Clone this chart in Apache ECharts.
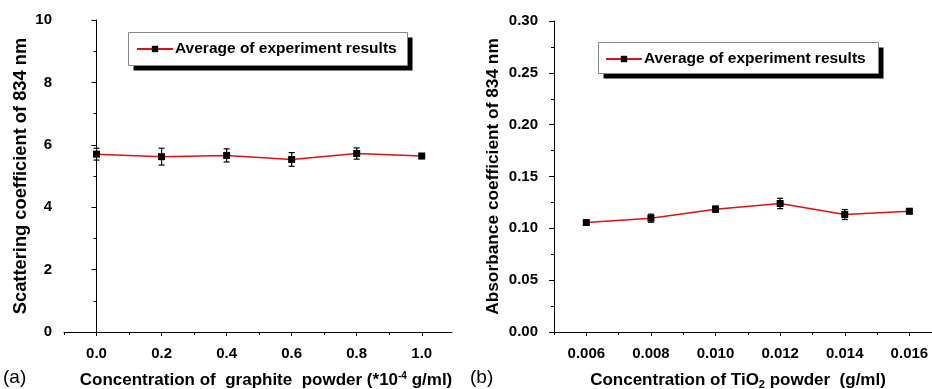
<!DOCTYPE html>
<html>
<head>
<meta charset="utf-8">
<script src="https://cdn.jsdelivr.net/npm/echarts@6/dist/echarts.min.js"></script>
<style>
  html, body { margin: 0; padding: 0; background: #fff; }
  #chart { width: 932px; height: 389px; }
</style>
</head>
<body>
<div id="chart"></div>
<script>
// (a) graphite powder, scattering coefficient
const graphiteConc = [0.0, 0.2, 0.4, 0.6, 0.8, 1.0]
const scatterMean = [5.70, 5.62, 5.66, 5.53, 5.72, 5.64]
const scatterErr = [0.19, 0.27, 0.21, 0.22, 0.18, 0.08]
const graphiteMajor = [0.0, 0.2, 0.4, 0.6, 0.8, 1.0]
const graphiteMinor = [-0.1, 0.1, 0.3, 0.5, 0.7, 0.9]

// (b) TiO2 powder, absorbance coefficient
const tioConc = [0.006, 0.008, 0.010, 0.012, 0.014, 0.016]
const absorbMean = [0.1056, 0.1098, 0.1185, 0.1240, 0.1133, 0.1165]
const absorbErr = [0.0020, 0.0039, 0.0030, 0.0050, 0.0048, 0.0024]
const tioMajor = [0.006, 0.008, 0.010, 0.012, 0.014, 0.016]
const tioMinor = [0.005, 0.007, 0.009, 0.011, 0.013, 0.015]

const seriesName = 'Average of experiment results'
const FONT = 'Liberation Sans'

const chart = echarts.init(document.getElementById('chart'))

// 误差棒
function errorBar(params, api) {
  const x = api.value(0)
  const lo = api.coord([x, api.value(1)])
  const hi = api.coord([x, api.value(2)])
  const w = 3
  const style = { stroke: '#000', lineWidth: 1.2 }
  return {
    type: 'group',
    children: [
      { type: 'line', shape: { x1: lo[0], y1: lo[1], x2: hi[0], y2: hi[1] }, style },
      { type: 'line', shape: { x1: lo[0] - w, y1: lo[1], x2: lo[0] + w, y2: lo[1] }, style },
      { type: 'line', shape: { x1: hi[0] - w, y1: hi[1], x2: hi[0] + w, y2: hi[1] }, style }
    ]
  }
}

const axisLine = { lineStyle: { color: '#000', width: 1 } }
const tickLabel = { color: '#000', fontFamily: FONT, fontWeight: 'bold', fontSize: 15 }
const nameStyle = { color: '#000', fontFamily: FONT, fontWeight: 'bold', fontSize: 17 }

function legendBox(left, top) {
  return {
    data: [seriesName],
    left, top,
    orient: 'horizontal',
    padding: 0,
    itemWidth: 36,
    itemHeight: 8,
    itemGap: 0,
    z: 6,
    textStyle: { color: '#000', fontFamily: FONT, fontWeight: 'bold', fontSize: 15.5, padding: [0, 0, 0, -3] }
  }
}

// 图例的边框和阴影
function legendFrame(x, y, w, h) {
  return [
    { type: 'rect', z: 1, shape: { x: x + 5, y: y + 5, width: w, height: h }, style: { fill: '#000' } },
    { type: 'rect', z: 2, shape: { x, y, width: w, height: h }, style: { fill: '#fff', stroke: '#888', lineWidth: 1 } }
  ]
}

const option = {
  animation: false,
  backgroundColor: '#fff',
  grid: [
    { left: 64, top: 20, width: 388, height: 312, outerBoundsMode: 'none' },
    { left: 554, top: 21, width: 378, height: 311, outerBoundsMode: 'none' }
  ],
  legend: [legendBox(136, 41), legendBox(605, 51)],
  xAxis: [
    {
      gridIndex: 0, type: 'value', min: -0.1, max: 1.093, position: 'bottom',
      name: 'Concentration of  graphite  powder (*10{sup|-4} g/ml)',
      nameLocation: 'middle', nameGap: 39,
      nameTextStyle: Object.assign({}, nameStyle, {
        padding: [0, 0, 0, 16],
        rich: { sup: { fontFamily: FONT, fontWeight: 'bold', fontSize: 10, verticalAlign: 'top', padding: [0, 0, 8, 0] } }
      }),
      axisLine,
      axisTick: { length: 4, lineStyle: { color: '#000' }, customValues: graphiteMajor },
      axisLabel: Object.assign({}, tickLabel, { margin: 14, customValues: graphiteMajor, formatter: v => v.toFixed(1) }),
      splitLine: { show: false }
    },
    {
      gridIndex: 0, type: 'value', min: -0.1, max: 1.093, position: 'bottom',
      axisLine: { show: false },
      axisTick: { length: 3, lineStyle: { color: '#000' }, customValues: graphiteMinor },
      axisLabel: { show: false },
      splitLine: { show: false }
    },
    {
      gridIndex: 1, type: 'value', min: 0.005, max: 0.0167, position: 'bottom',
      name: 'Concentration of TiO{sub|2} powder  (g/ml)',
      nameLocation: 'middle', nameGap: 39,
      nameTextStyle: Object.assign({}, nameStyle, {
        padding: [0, 10, 0, 0],
        rich: { sub: { fontFamily: FONT, fontWeight: 'bold', fontSize: 11, verticalAlign: 'bottom', padding: [8, 0, 0, 0] } }
      }),
      axisLine,
      axisTick: { length: 4, lineStyle: { color: '#000' }, customValues: tioMajor },
      axisLabel: Object.assign({}, tickLabel, { margin: 14, customValues: tioMajor, formatter: v => v.toFixed(3) }),
      splitLine: { show: false }
    },
    {
      gridIndex: 1, type: 'value', min: 0.005, max: 0.0167, position: 'bottom',
      axisLine: { show: false },
      axisTick: { length: 3, lineStyle: { color: '#000' }, customValues: tioMinor },
      axisLabel: { show: false },
      splitLine: { show: false }
    }
  ],
  yAxis: [
    {
      gridIndex: 0, type: 'value', min: 0, max: 10, interval: 2,
      name: 'Scattering coefficient of 834 nm',
      nameLocation: 'middle', nameGap: 34,
      nameTextStyle: Object.assign({}, nameStyle, { fontSize: 18.3 }),
      axisLine: { show: true, lineStyle: { color: '#000' } },
      axisTick: { show: true, length: 5, lineStyle: { color: '#000' } },
      minorTick: { show: true, splitNumber: 2, length: 3, lineStyle: { color: '#000' } },
      axisLabel: Object.assign({}, tickLabel, { margin: 12 }),
      splitLine: { show: false }
    },
    {
      gridIndex: 1, type: 'value', min: 0, max: 0.30, interval: 0.05,
      name: 'Absorbance coefficient of 834 nm',
      nameLocation: 'middle', nameGap: 52,
      nameTextStyle: Object.assign({}, nameStyle, { fontSize: 17.3 }),
      axisLine: { show: true, lineStyle: { color: '#000' } },
      axisTick: { show: true, length: 5, lineStyle: { color: '#000' } },
      minorTick: { show: true, splitNumber: 2, length: 3, lineStyle: { color: '#000' } },
      axisLabel: Object.assign({}, tickLabel, { margin: 16, formatter: v => v.toFixed(2) }),
      splitLine: { show: false }
    }
  ],
  series: [
    {
      name: seriesName, type: 'line', xAxisIndex: 0, yAxisIndex: 0,
      data: graphiteConc.map((x, i) => [x, scatterMean[i]]),
      symbol: 'rect', symbolSize: 7,
      itemStyle: { color: '#000' },
      lineStyle: { color: '#e01010', width: 1.5 },
      z: 3
    },
    {
      type: 'custom', xAxisIndex: 0, yAxisIndex: 0,
      renderItem: errorBar,
      data: graphiteConc.map((x, i) => [x, scatterMean[i] - scatterErr[i], scatterMean[i] + scatterErr[i]]),
      z: 4
    },
    {
      name: seriesName, type: 'line', xAxisIndex: 2, yAxisIndex: 1,
      data: tioConc.map((x, i) => [x, absorbMean[i]]),
      symbol: 'rect', symbolSize: 7,
      itemStyle: { color: '#000' },
      lineStyle: { color: '#e01010', width: 1.5 },
      z: 3
    },
    {
      type: 'custom', xAxisIndex: 2, yAxisIndex: 1,
      renderItem: errorBar,
      data: tioConc.map((x, i) => [x, absorbMean[i] - absorbErr[i], absorbMean[i] + absorbErr[i]]),
      z: 4
    }
  ],
  graphic: [
    ...legendFrame(128.5, 32.5, 279, 33),
    ...legendFrame(598.5, 42.5, 280, 31),
    { type: 'text', left: 3, top: 368, style: { text: '(a)', font: '19px "Liberation Sans"', fill: '#000' } },
    { type: 'text', left: 470, top: 368, style: { text: '(b)', font: '19px "Liberation Sans"', fill: '#000' } }
  ]
}

chart.setOption(option)
</script>
</body>
</html>
